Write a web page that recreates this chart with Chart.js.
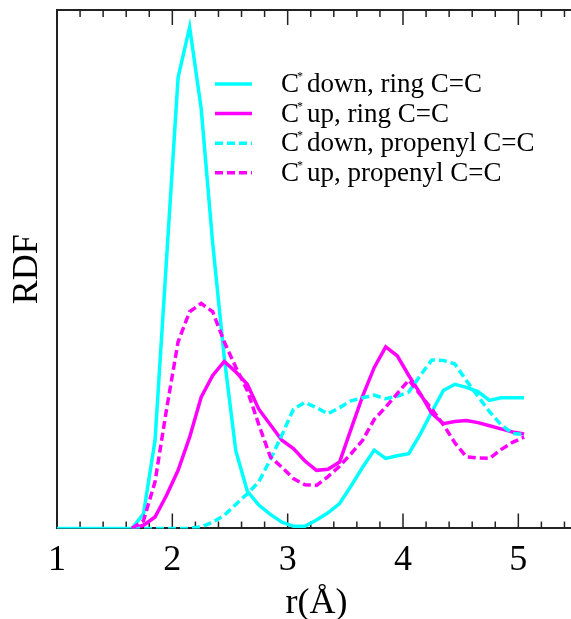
<!DOCTYPE html>
<html>
<head>
<meta charset="utf-8">
<script src="https://cdn.jsdelivr.net/npm/chart.js@4"></script>
<style>
  html, body { margin: 0; padding: 0; background: #fff; overflow: hidden; }
</style>
</head>
<body>
<canvas id="grafico" width="580" height="619"></canvas>
<script>
/* ================= DATA ================= */
const raio = [0.95, 1.05, 1.15, 1.25, 1.35, 1.45, 1.55, 1.65, 1.75, 1.85, 1.95,
  2.05, 2.15, 2.25, 2.35, 2.45, 2.55, 2.65, 2.75, 2.85, 2.95,
  3.05, 3.15, 3.25, 3.35, 3.45, 3.55, 3.65, 3.75, 3.85, 3.95,
  4.05, 4.15, 4.25, 4.35, 4.45, 4.55, 4.65, 4.75, 4.85, 4.95, 5.05];

const downRing = [0, 0, 0, 0, 0, 0, 0, 0, 0.28, 1.70, 5.2,
  8.7, 9.67, 8.1, 5.5, 3.3, 1.5, 0.72, 0.45, 0.27, 0.12,
  0.04, 0.04, 0.16, 0.30, 0.48, 0.82, 1.18, 1.51, 1.35, 1.40,
  1.44, 1.82, 2.25, 2.66, 2.78, 2.72, 2.64, 2.47, 2.52, 2.52, 2.52];

const upRing = [null, null, null, null, null, null, null, 0, 0.06, 0.22, 0.64,
  1.12, 1.76, 2.53, 2.95, 3.22, 3.02, 2.78, 2.30, 2.00, 1.70,
  1.54, 1.30, 1.12, 1.14, 1.28, 1.92, 2.55, 3.10, 3.50, 3.33,
  2.95, 2.60, 2.22, 2.02, 2.06, 2.08, 2.04, 1.98, 1.92, 1.86, 1.82];

const downPropenyl = [null, null, null, null, null, null, null, 0, 0, 0, 0,
  0, 0, 0.03, 0.12, 0.25, 0.46, 0.67, 0.90, 1.33, 1.80,
  2.30, 2.43, 2.33, 2.21, 2.33, 2.46, 2.52, 2.57, 2.50, 2.55,
  2.63, 2.95, 3.25, 3.24, 3.17, 2.85, 2.55, 2.25, 2.00, 1.83, 1.81];

const upPropenyl = [null, null, null, null, null, null, null, 0, 0.15, 0.90, 2.30,
  3.60, 4.18, 4.34, 4.18, 3.60, 3.11, 2.66, 2.00, 1.38, 1.18,
  0.96, 0.84, 0.83, 1.00, 1.20, 1.44, 1.70, 2.10, 2.34, 2.60,
  2.86, 2.58, 2.30, 2.00, 1.65, 1.38, 1.36, 1.35, 1.52, 1.66, 1.76];

const legendas = [
  ["C", "*", "down, ring C=C"],
  ["C", "*", "up, ring C=C"],
  ["C", "*", "down, propenyl C=C"],
  ["C", "*", "up, propenyl C=C"]
];

/* ================= STYLE ================= */
const CIANO = "#00ffff";
const MAGENTA = "#ff00ff";
const FONTE = '"Liberation Serif", "Times New Roman", serif';

function pontos(valores) {
  return raio.map((r, i) => ({ x: r, y: valores[i] }));
}

/* ================= PLUGINS ================= */
// inward ticks on bottom and top axis + top border line
const eixos = {
  id: "eixos",
  beforeDatasetsDraw(chart) {
    const { ctx, chartArea } = chart;
    const x = chart.scales.x;
    ctx.save();
    ctx.strokeStyle = "#222";
    ctx.lineWidth = 2;
    ctx.beginPath();
    ctx.moveTo(chartArea.left - 1, chartArea.top);
    ctx.lineTo(chartArea.right, chartArea.top);
    ctx.stroke();
    ctx.lineWidth = 1.5;
    x.ticks.forEach(t => {
      const px = x.getPixelForValue(t.value);
      const maior = Math.abs(t.value - Math.round(t.value)) < 1e-6;
      const len = maior ? 15 : 7;
      ctx.beginPath();
      ctx.moveTo(px, chartArea.bottom);
      ctx.lineTo(px, chartArea.bottom - len);
      ctx.moveTo(px, chartArea.top);
      ctx.lineTo(px, chartArea.top + len);
      ctx.stroke();
    });
    ctx.restore();
  }
};

// legend with superscript asterisk
const legenda = {
  id: "legenda",
  afterDraw(chart) {
    const ctx = chart.ctx;
    const linhas = chart.data.datasets;
    const y0 = 84, passo = 29.6;
    ctx.save();
    linhas.forEach((ds, i) => {
      const y = y0 + i * passo;
      ctx.strokeStyle = ds.borderColor;
      ctx.lineWidth = 3.5;
      ctx.setLineDash(ds.borderDash || []);
      ctx.beginPath();
      ctx.moveTo(215, y);
      ctx.lineTo(252, y);
      ctx.stroke();
      ctx.setLineDash([]);

      const [c, sup, resto] = legendas[i];
      ctx.fillStyle = "#000";
      ctx.textBaseline = "middle";
      ctx.font = "27px " + FONTE;
      ctx.fillText(c, 281, y + 1);
      ctx.font = "12px " + FONTE;
      ctx.fillText(sup, 297, y - 7);
      ctx.font = "27px " + FONTE;
      ctx.fillText(resto, 307, y + 1);
    });
    ctx.restore();
  }
};

/* ================= CHART ================= */
function criarGrafico() {
  const ctx = document.getElementById("grafico");

  new Chart(ctx, {
    type: "scatter",
    data: {
      datasets: [
        { data: pontos(downRing), borderColor: CIANO, order: 4 },
        { data: pontos(upRing), borderColor: MAGENTA, order: 3 },
        { data: pontos(downPropenyl), borderColor: CIANO, borderDash: [8, 4], order: 2 },
        { data: pontos(upPropenyl), borderColor: MAGENTA, borderDash: [8, 4], order: 1 }
      ].map(d => Object.assign({
        showLine: true,
        spanGaps: false,
        borderWidth: 3.5,
        pointRadius: 0,
        tension: 0,
        fill: false
      }, d))
    },
    options: {
      responsive: false,
      animation: false,
      layout: { padding: { left: 0, top: 10, right: 4, bottom: 0 } },
      plugins: {
        legend: { display: false },
        tooltip: { enabled: false }
      },
      scales: {
        x: {
          type: "linear",
          min: 1,
          max: 5.5,
          grid: { display: true, drawOnChartArea: false, drawTicks: false },
          border: { display: true, color: "#222", width: 2 },
          ticks: {
            stepSize: 0.2,
            includeBounds: false,
            autoSkip: false,
            maxRotation: 0,
            padding: 14,
            color: "#000",
            font: { family: FONTE, size: 36, lineHeight: 1 },
            callback: v => Math.abs(v - Math.round(v)) < 1e-6 ? String(Math.round(v)) : ""
          },
          title: {
            display: true,
            text: "r(Å)",
            color: "#000",
            font: { family: FONTE, size: 36, lineHeight: 0.6 },
            padding: { top: 0, bottom: 5 }
          }
        },
        y: {
          min: 0,
          max: 10,
          grid: { display: true, drawOnChartArea: false, drawTicks: false },
          border: { display: true, color: "#222", width: 2 },
          ticks: { display: false },
          title: {
            display: true,
            text: "RDF",
            color: "#000",
            font: { family: FONTE, size: 36, lineHeight: 1 },
            padding: { top: 10, bottom: 11 }
          }
        }
      }
    },
    plugins: [eixos, legenda]
  });
}

window.onload = () => {
  criarGrafico();
};
</script>
</body>
</html>
